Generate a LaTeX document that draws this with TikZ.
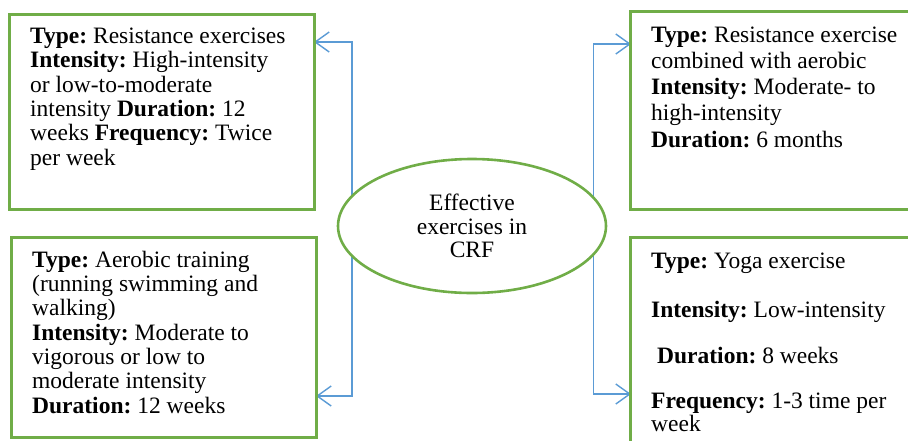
\documentclass[tikz,border=0pt]{standalone}
\usepackage{fontspec}
\setmainfont{Liberation Serif}
\frenchspacing
\usetikzlibrary{arrows.meta,shapes.geometric}
\definecolor{boxgreen}{HTML}{70AD47}
\definecolor{linkblue}{HTML}{5B9BD5}
\pgfdeclarelayer{bg}
\pgfsetlayers{bg,main}
\begin{document}
\begin{tikzpicture}[x=1pt,y=-1pt,
  panel/.style={draw=boxgreen, line width=3pt, anchor=north west, inner sep=0pt},
  txt/.style={anchor=north west, inner sep=0pt, align=left},
  link/.style={draw=linkblue, line width=1.4pt, shorten >=-2pt, -{Straight Barb[length=14pt,width=20pt]}},
  hub/.style={ellipse, draw=boxgreen, line width=2.6pt, fill=white, minimum width=268pt, minimum height=134pt, inner sep=0pt, align=center, font=\fontsize{23.5}{23.5}\selectfont}]
\useasboundingbox (0,0) rectangle (908,440);
\clip (0,0) rectangle (908,440);
% boxes
\node[panel, minimum width=305pt, minimum height=195pt] (tl) at (8,13) {};
\node[panel, minimum width=308pt, minimum height=198pt] (tr) at (629,10) {};
\node[panel, minimum width=305pt, minimum height=200pt] (bl) at (10,236) {};
\node[panel, minimum width=308pt, minimum height=231pt] (br) at (629,236) {};
% hub
\node[hub] (hub) at (472,226) {\rule{0pt}{17pt}Effective\\exercises in\\CRF};
% texts
\node[txt, font=\fontsize{23.5}{24.4}\selectfont] (tltext) at (30,26)
 {\rule{0pt}{17pt}\textbf{Type:} Resistance exercises\\
  \textbf{Intensity:} High-intensity\\
  or low-to-moderate\\
  intensity \textbf{Duration:} 12\\
  weeks \textbf{Frequency:} Twice\\
  per week};
\node[txt, font=\fontsize{23.5}{26.2}\selectfont] (trtext) at (651,25)
 {\rule{0pt}{17pt}\textbf{Type:} Resistance exercise\\
  combined with aerobic\\
  \textbf{Intensity:} Moderate- to\\
  high-intensity\\
  \textbf{Duration:} 6 months};
\node[txt, font=\fontsize{23.5}{24.3}\selectfont] (bltext) at (32,250)
 {\rule{0pt}{17pt}\textbf{Type:} Aerobic training\\
  (running swimming and\\
  walking)\\
  \textbf{Intensity:} Moderate to\\
  vigorous or low to\\
  moderate intensity\\
  \textbf{Duration:} 12 weeks};
\node[txt, font=\fontsize{23.5}{23}\selectfont] (brtext) at (651,251)
 {\rule{0pt}{17pt}\textbf{Type:} Yoga exercise\\[26pt]
  \textbf{Intensity:} Low-intensity\\[23pt]
  \hspace*{6pt}\textbf{Duration:} 8 weeks\\[22pt]
  \textbf{Frequency:} 1-3 time per\\
  week};
% connectors
\begin{pgfonlayer}{bg}
\draw[link] (hub.center -| 352,0) |- (tl.east |- 0,42);
\draw[link] (hub.center -| 352,0) |- (bl.east |- 0,396);
\draw[link] (hub.center -| 593.5,0) |- (tr.west |- 0,44);
\draw[link] (hub.center -| 593.5,0) |- (br.west |- 0,394);
\end{pgfonlayer}
\end{tikzpicture}
\end{document}
